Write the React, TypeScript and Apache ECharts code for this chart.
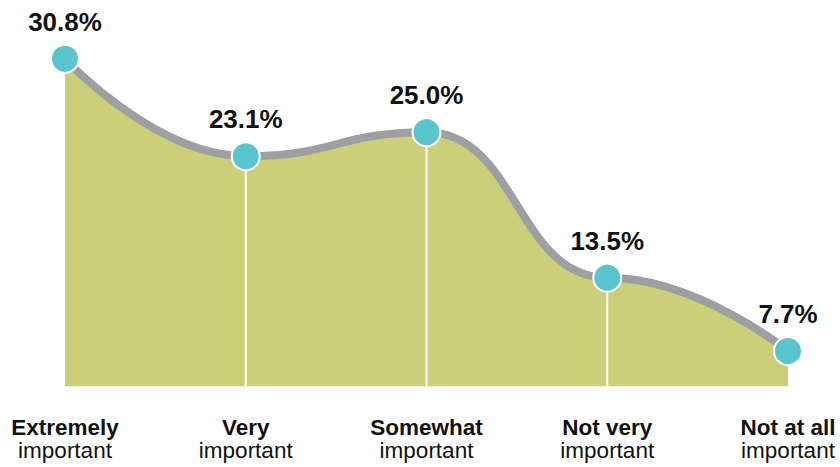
import React, { useEffect, useRef } from "react";
import * as echarts from "echarts";

const categoriesBold = ["Extremely", "Very", "Somewhat", "Not very", "Not at all"];
const categoriesLight = ["important", "important", "important", "important", "important"];
const values = [30.8, 23.1, 25.0, 13.5, 7.7];
const valueLabels = ["30.8%", "23.1%", "25.0%", "13.5%", "7.7%"];

const FONT = '"Liberation Sans", Arial, Helvetica, sans-serif';

export default function App() {
  const ref = useRef<HTMLDivElement>(null);
  useEffect(() => {
    if (!ref.current) return;
    const chart = echarts.init(ref.current, undefined, { renderer: "svg" });
    const cats = categoriesBold.map((b, i) => b + "\n" + categoriesLight[i]);
    const dividers = values.map((v, i) => (i === 0 || i === values.length - 1 ? "-" : v));
    chart.setOption({
      animation: false,
      backgroundColor: "#ffffff",
      grid: { left: 65, right: 52, top: 7, bottom: 80.5 },
      xAxis: {
        type: "category",
        data: cats,
        boundaryGap: false,
        axisLine: { show: false },
        axisTick: { show: false },
        splitLine: { show: false },
        axisLabel: {
          interval: 0,
          margin: 29,
          formatter: (val: string) => {
            const [a, b] = val.split("\n");
            return "{b|" + a + "}\n{n|" + b + "}";
          },
          rich: {
            b: { fontFamily: FONT, fontWeight: "bold", fontSize: 22.5, color: "#111", lineHeight: 23, align: "center" },
            n: { fontFamily: FONT, fontWeight: "normal", fontSize: 22.5, color: "#111", lineHeight: 23, align: "center" },
          },
        },
      },
      yAxis: {
        type: "value",
        min: 4.9,
        max: 34.9,
        show: false,
        splitLine: { show: false },
      },
      series: [
        {
          type: "line",
          data: values,
          smooth: 0.5,
          smoothMonotone: "x",
          symbol: "none",
          lineStyle: { width: 0 },
          areaStyle: { color: "#cccf7a", opacity: 1, origin: "start" },
          z: 1,
          silent: true,
        },
        {
          type: "bar",
          data: dividers,
          barWidth: 2,
          itemStyle: { color: "#ffffff" },
          z: 2,
          clip: true,
          silent: true,
        },
        {
          type: "line",
          data: values,
          smooth: 0.5,
          smoothMonotone: "x",
          symbol: "circle",
          symbolSize: 28,
          showAllSymbol: true,
          lineStyle: { color: "#9e9fa3", width: 8 },
          itemStyle: { color: "#5bc5ce", borderColor: "#ffffff", borderWidth: 2 },
          label: {
            show: true,
            position: "top",
            distance: 9,
            formatter: (p: any) => valueLabels[p.dataIndex],
            fontFamily: FONT,
            fontWeight: "bold",
            fontSize: 26,
            color: "#111",
          },
          z: 3,
        },
      ],
    });
    return () => chart.dispose();
  }, []);
  return (
    <div
      ref={ref}
      style={{ position: "fixed", left: 0, top: 0, width: 840, height: 467, background: "#fff" }}
    />
  );
}
